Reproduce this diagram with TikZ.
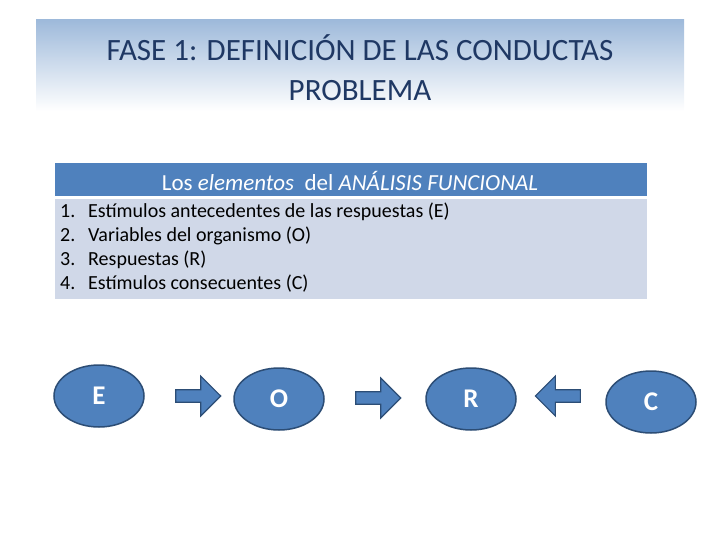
\documentclass[tikz,border=0pt]{standalone}
\usepackage{fontspec}
\setmainfont{Carlito}
\usetikzlibrary{shapes.geometric,shapes.arrows}
\definecolor{acc}{HTML}{4F81BD}
\definecolor{edge}{HTML}{2C4D75}
\definecolor{body}{HTML}{D0D8E8}
\definecolor{ttl}{HTML}{1F3864}
\tikzset{
 el/.style={ellipse,draw=edge,line width=1.5pt,fill=acc,minimum width=90pt,minimum height=62pt,inner sep=0pt,text=white,font=\fontsize{27}{30}\selectfont\bfseries},
 blk/.style={single arrow,draw=edge,line width=1.2pt,fill=acc,minimum height=45pt,minimum width=40pt,single arrow head extend=10pt,single arrow head indent=0pt,inner sep=4pt}
}
\begin{document}
\begin{tikzpicture}[x=1pt,y=-1pt]
\useasboundingbox (0,0) rectangle (720,540);
\shade[top color=acc!55,bottom color=white] (36,20) rectangle (684,111);
\node[text=ttl,align=center,font=\fontsize{31}{40}\selectfont] (title) at (360,68) {FASE 1: DEFINICIÓN DE LAS CONDUCTAS\\PROBLEMA};
\fill[acc] (55,163) rectangle (647,196);
\node[text=white,font=\fontsize{23}{26}\selectfont] (head) at (350,181) {Los \textit{elementos}\ \ del \textit{ANÁLISIS FUNCIONAL}};
\fill[body] (55,199) rectangle (647,299);
\node[anchor=north west,align=left,inner sep=0pt,font=\fontsize{20}{24}\selectfont] (list) at (60,203) {
\makebox[28pt][l]{1.}Estímulos antecedentes de las respuestas (E)\\
\makebox[28pt][l]{2.}Variables del organismo (O)\\
\makebox[28pt][l]{3.}Respuestas (R)\\
\makebox[28pt][l]{4.}Estímulos consecuentes (C)};
\node[el] (E) at (99,396) {E};
\node[el] (O) at (279,399) {O};
\node[el] (R) at (471,399) {R};
\node[el] (C) at (651,402) {C};
\node[blk] (a1) at (195,396) {};
\node[blk] (a2) at (375,398) {};
\node[blk,shape border rotate=180] (a3) at (561,396) {};
\end{tikzpicture}
\end{document}
